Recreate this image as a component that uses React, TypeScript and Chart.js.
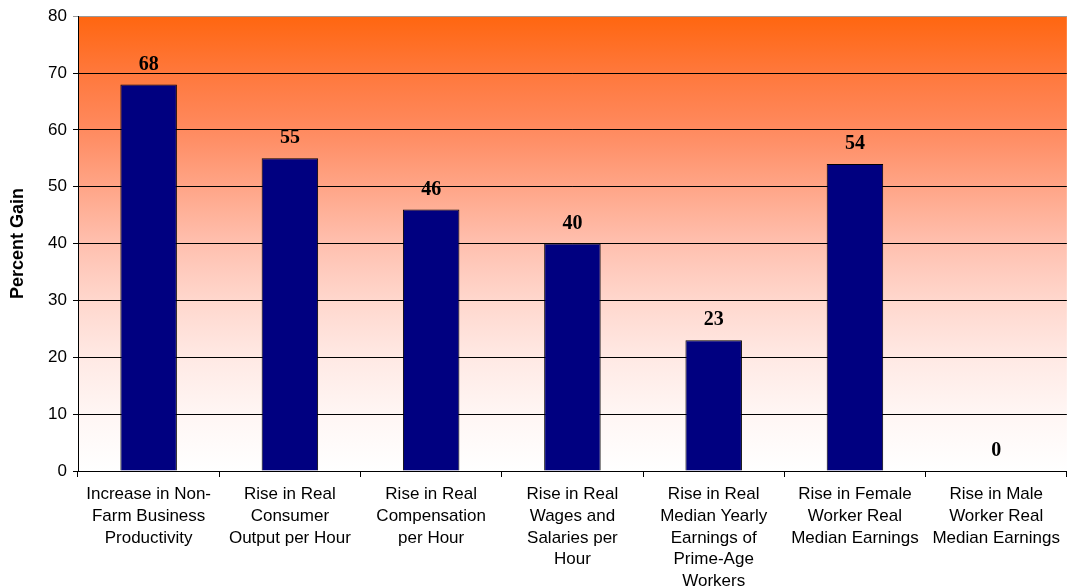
import React, { useEffect, useRef } from "react";
import { Chart, registerables } from "chart.js";

Chart.register(...registerables);

const categories: string[][] = [
  ["Increase in Non-", "Farm Business", "Productivity"],
  ["Rise in Real", "Consumer", "Output per Hour"],
  ["Rise in Real", "Compensation", "per Hour"],
  ["Rise in Real", "Wages and", "Salaries per", "Hour"],
  ["Rise in Real", "Median Yearly", "Earnings of", "Prime-Age", "Workers"],
  ["Rise in Female", "Worker Real", "Median Earnings"],
  ["Rise in Male", "Worker Real", "Median Earnings"],
];
const percentGain: number[] = [68, 55, 46, 40, 23, 54, 0];
const yTicks: number[] = [0, 10, 20, 30, 40, 50, 60, 70, 80];

const bgPlugin = {
  id: "bgGradient",
  beforeDraw(chart: any) {
    const { ctx, chartArea } = chart;
    if (!chartArea) return;
    const g = ctx.createLinearGradient(0, chartArea.top, 0, chartArea.bottom);
    g.addColorStop(0, "rgb(255,102,16)");
    g.addColorStop(0.125, "rgb(255,120,60)");
    g.addColorStop(0.25, "rgb(255,138,95)");
    g.addColorStop(0.375, "rgb(255,165,135)");
    g.addColorStop(0.5, "rgb(255,192,175)");
    g.addColorStop(0.625, "rgb(255,215,205)");
    g.addColorStop(0.75, "rgb(255,233,228)");
    g.addColorStop(0.875, "rgb(255,246,244)");
    g.addColorStop(1, "rgb(255,255,255)");
    ctx.save();
    ctx.fillStyle = g;
    ctx.fillRect(chartArea.left, chartArea.top, chartArea.right - chartArea.left, chartArea.bottom - chartArea.top);
    ctx.restore();
  },
};

const labelPlugin = {
  id: "valueLabels",
  afterDatasetsDraw(chart: any) {
    const { ctx } = chart;
    const meta = chart.getDatasetMeta(0);
    ctx.save();
    ctx.font = "bold 20px 'Liberation Serif', 'Times New Roman', serif";
    ctx.fillStyle = "#000";
    ctx.textAlign = "center";
    ctx.textBaseline = "middle";
    meta.data.forEach((bar: any, i: number) => {
      ctx.fillText(String(percentGain[i]), bar.x, bar.y - 20);
    });
    ctx.restore();
  },
};

export default function App() {
  const ref = useRef<HTMLCanvasElement | null>(null);
  useEffect(() => {
    if (!ref.current) return;
    const chart = new Chart(ref.current, {
      type: "bar",
      data: {
        labels: categories,
        datasets: [
          {
            data: percentGain,
            backgroundColor: "#000080",
            borderColor: "#000000",
            borderWidth: 1,
            barPercentage: 0.4,
            categoryPercentage: 1,
          },
        ],
      },
      options: {
        animation: false,
        responsive: false,
        maintainAspectRatio: false,
        layout: { padding: { top: 15, right: 0, left: 0, bottom: 0 } },
        plugins: {
          legend: { display: false },
          tooltip: { enabled: false },
        },
        scales: {
          x: {
            afterFit(scale: any) {
              scale.height = 116;
            },
            grid: {
              offset: true,
              drawOnChartArea: false,
              tickLength: 6,
              color: "#000",
            },
            border: { color: "#000", width: 1 },
            ticks: {
              color: "#000",
              font: { family: "'Liberation Sans', Arial, sans-serif", size: 17, lineHeight: 1.27 },
              padding: 7,
              maxRotation: 0,
              autoSkip: false,
            },
          },
          y: {
            min: 0,
            max: 80,
            afterFit(scale: any) {
              scale.width = 78;
            },
            afterBuildTicks(scale: any) {
              scale.ticks = yTicks.map((v) => ({ value: v }));
            },
            grid: {
              color: (c: any) => (c.tick && c.tick.value === 80 ? "#999" : "#000"),
              tickLength: 5,
              lineWidth: 1,
            },
            border: { color: "#000", width: 1 },
            ticks: {
              color: "#000",
              font: { family: "'Liberation Sans', Arial, sans-serif", size: 17 },
              padding: 6,
            },
            title: {
              display: true,
              text: "Percent Gain",
              color: "#000",
              font: { family: "'Liberation Sans', Arial, sans-serif", size: 18, weight: "bold" },
              padding: { top: 7, bottom: 0 },
            },
          },
        },
      },
      plugins: [bgPlugin, labelPlugin],
    });
    return () => chart.destroy();
  }, []);
  return (
    <div style={{ position: "fixed", left: 0, top: 0, width: 1067, height: 587, background: "#fff" }}>
      <canvas ref={ref} width={1067} height={587} style={{ width: 1067, height: 587 }} />
    </div>
  );
}
